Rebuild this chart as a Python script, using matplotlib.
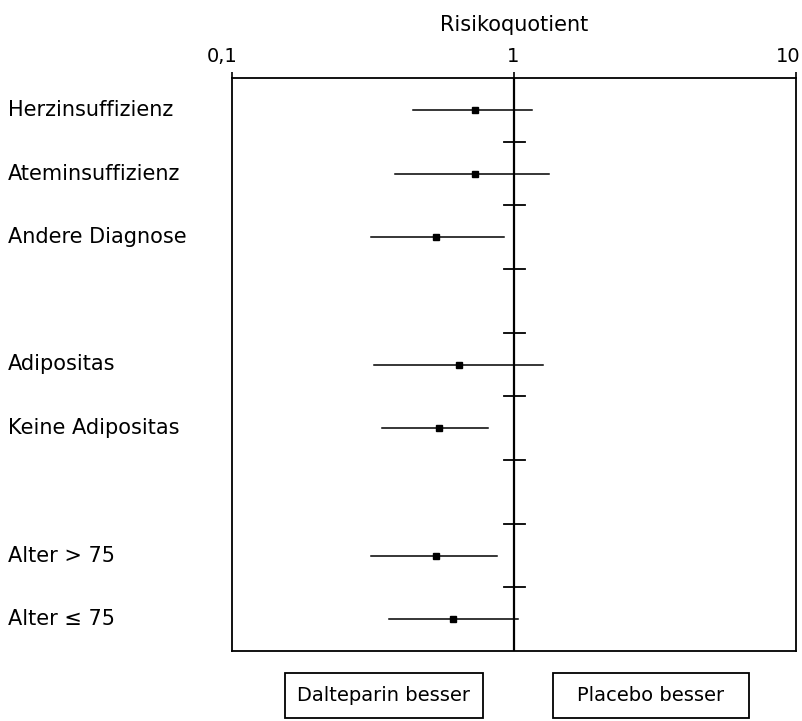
import matplotlib
matplotlib.use("Agg")
import matplotlib.pyplot as plt
from matplotlib.patches import Rectangle
from matplotlib.transforms import ScaledTranslation, blended_transform_factory

plt.rcParams['font.family'] = ['DejaVu Sans']

# ---- data ----
labels = ["Herzinsuffizienz", "Ateminsuffizienz", "Andere Diagnose",
          "Adipositas", "Keine Adipositas", "Alter > 75", "Alter \u2264 75"]
row_pos = [0, 1, 2, 4, 5, 7, 8]
rr = [0.73, 0.73, 0.53, 0.64, 0.54, 0.53, 0.61]
ci_low = [0.44, 0.38, 0.31, 0.32, 0.34, 0.31, 0.36]
ci_high = [1.16, 1.33, 0.92, 1.27, 0.81, 0.87, 1.03]
ref_marks = [0.5, 1.5, 2.5, 3.5, 4.5, 5.5, 6.5, 7.5]
xticks = [0.1, 1, 10]
xticklabels = ["0,1", "1", "10"]
x_title = "Risikoquotient"
box_texts = ["Dalteparin besser", "Placebo besser"]

fig = plt.figure(figsize=(8.03, 7.21), dpi=100)
ax = fig.add_axes([232/803, 1-651/721, (796-232)/803, (651-78)/721])
ax.set_xscale('log')
ax.set_xlim(0.1, 10)
ax.set_ylim(8.5, -0.5)

# reference line at 1
ax.axvline(1, color='black', lw=1.6, zorder=2)
for y in ref_marks:
    ax.plot([0.92, 1.09], [y, y], color='black', lw=1.3, zorder=2)

# CI lines and point estimates
for y, p, lo, hi in zip(row_pos, rr, ci_low, ci_high):
    ax.plot([lo, hi], [y, y], color='black', lw=1.1, zorder=3)
    ax.plot([p], [y], marker='s', color='black', markersize=4.5, zorder=4)

# axis styling
ax.xaxis.tick_top()
ax.set_xticks(xticks)
ax.set_xticklabels(xticklabels, fontsize=14)
ax.xaxis.set_minor_locator(matplotlib.ticker.NullLocator())
ax.tick_params(axis='x', direction='out', length=4, width=1.2, pad=5)
# small horizontal shifts of the outer tick labels as in the reference
shifts = [-10, -1, -8]
for lbl, dx in zip(ax.get_xticklabels(), shifts):
    lbl.set_transform(lbl.get_transform() + ScaledTranslation(dx/100, 0, fig.dpi_scale_trans))
ax.set_yticks([])
for s in ax.spines.values():
    s.set_linewidth(1.3)
ax.set_xlabel(x_title, fontsize=15, labelpad=11)
ax.xaxis.set_label_position('top')

# row labels
trans = blended_transform_factory(fig.transFigure, ax.transData)
for lab, y in zip(labels, row_pos):
    ax.text(8/803, y, lab, transform=trans, ha='left', va='center', fontsize=15)

# bottom boxes
boxes = [(285, 673, 483, 718), (553, 673, 749, 718)]
for (x0, y0, x1, y1), t in zip(boxes, box_texts):
    fx0, fx1 = x0/803, x1/803
    fy0, fy1 = 1-y1/721, 1-y0/721
    fig.add_artist(Rectangle((fx0, fy0), fx1-fx0, fy1-fy0, transform=fig.transFigure,
                             fill=False, edgecolor='black', lw=1.3))
    fig.text((fx0+fx1)/2, (fy0+fy1)/2, t, ha='center', va='center', fontsize=14)

fig.savefig("out.png", dpi=100)
